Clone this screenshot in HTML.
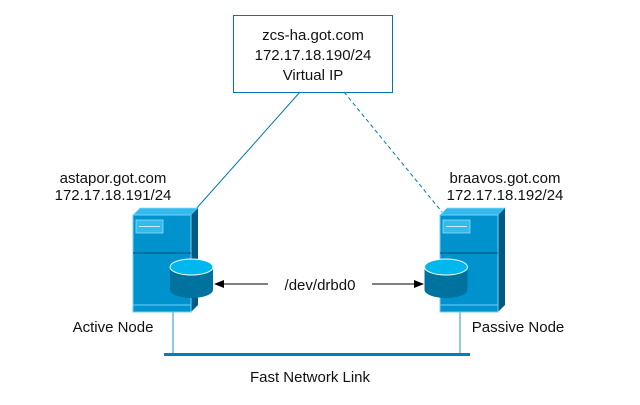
<!DOCTYPE html>
<html><head><style>body{margin:0;background:#fff}svg text{font-family:"Liberation Sans",sans-serif;font-size:15px;fill:#111}</style></head><body>
<svg width="640" height="400" xmlns="http://www.w3.org/2000/svg">
<defs><marker id="a" markerWidth="10" markerHeight="8" refX="9" refY="4" orient="auto" markerUnits="userSpaceOnUse"><path d="M0,0L10,4L0,8z" fill="#000"/></marker>
<g id="srv">
<polygon points="0,7 7,0 65,0 58,7" fill="#33bbee" stroke="#8fdcff" stroke-width="0.8"/>
<polygon points="58,7 65,0 65,97 58,104" fill="#005a82"/>
<rect x="0" y="7" width="58" height="97" fill="#0092cc" stroke="#6fd0ff" stroke-width="1"/>
<line x1="0" y1="45" x2="58" y2="45" stroke="#005d8a" stroke-width="1.2"/>
<line x1="0" y1="97" x2="58" y2="97" stroke="#6fd0ff" stroke-width="1"/>
<rect x="3" y="12" width="27" height="13" fill="#33bbee" stroke="#8fdcff" stroke-width="0.8"/>
<line x1="6" y1="18.5" x2="27" y2="18.5" stroke="#cdf0ff" stroke-width="1"/>
</g>
<g id="cyl">
<path d="M-21.5,0 V23 A21.5,8 0 0 0 21.5,23 V0" fill="#00729f"/>
<ellipse cx="0" cy="0" rx="21.5" ry="8" fill="#00b7ee" stroke="#fff" stroke-width="1"/>
</g></defs>
<rect x="233.5" y="15.5" width="159" height="77" fill="#fff" stroke="#0077b0" stroke-width="1"/>
<text x="313" y="40" text-anchor="middle">zcs-ha.got.com</text>
<text x="313" y="60" text-anchor="middle">172.17.18.190/24</text>
<text x="313" y="80" text-anchor="middle">Virtual IP</text>
<line x1="300" y1="92" x2="195" y2="210" stroke="#0077b0" stroke-width="1"/>
<line x1="344" y1="92" x2="442" y2="212" stroke="#0077b0" stroke-width="1" stroke-dasharray="4,3"/>
<text x="113" y="183" text-anchor="middle">astapor.got.com</text>
<text x="113" y="200" text-anchor="middle">172.17.18.191/24</text>
<text x="505" y="183" text-anchor="middle">braavos.got.com</text>
<text x="505" y="200" text-anchor="middle">172.17.18.192/24</text>
<line x1="173" y1="312" x2="173" y2="354" stroke="#66bbdd" stroke-width="1.5"/>
<line x1="460" y1="312" x2="460" y2="354" stroke="#66bbdd" stroke-width="1.5"/>
<line x1="164" y1="354.5" x2="470" y2="354.5" stroke="#0080bb" stroke-width="3"/>
<use href="#srv" x="133" y="208"/>
<use href="#srv" x="440" y="208"/>
<use href="#cyl" x="191.5" y="267"/>
<use href="#cyl" x="446" y="267"/>
<line x1="268" y1="284" x2="215" y2="284" stroke="#000" stroke-width="1" marker-end="url(#a)"/>
<line x1="372" y1="284" x2="423" y2="284" stroke="#000" stroke-width="1" marker-end="url(#a)"/>
<text x="320" y="290" text-anchor="middle">/dev/drbd0</text>
<text x="113" y="332" text-anchor="middle">Active Node</text>
<text x="518" y="332" text-anchor="middle">Passive Node</text>
<text x="310" y="382" text-anchor="middle">Fast Network Link</text>
</svg></body></html>
